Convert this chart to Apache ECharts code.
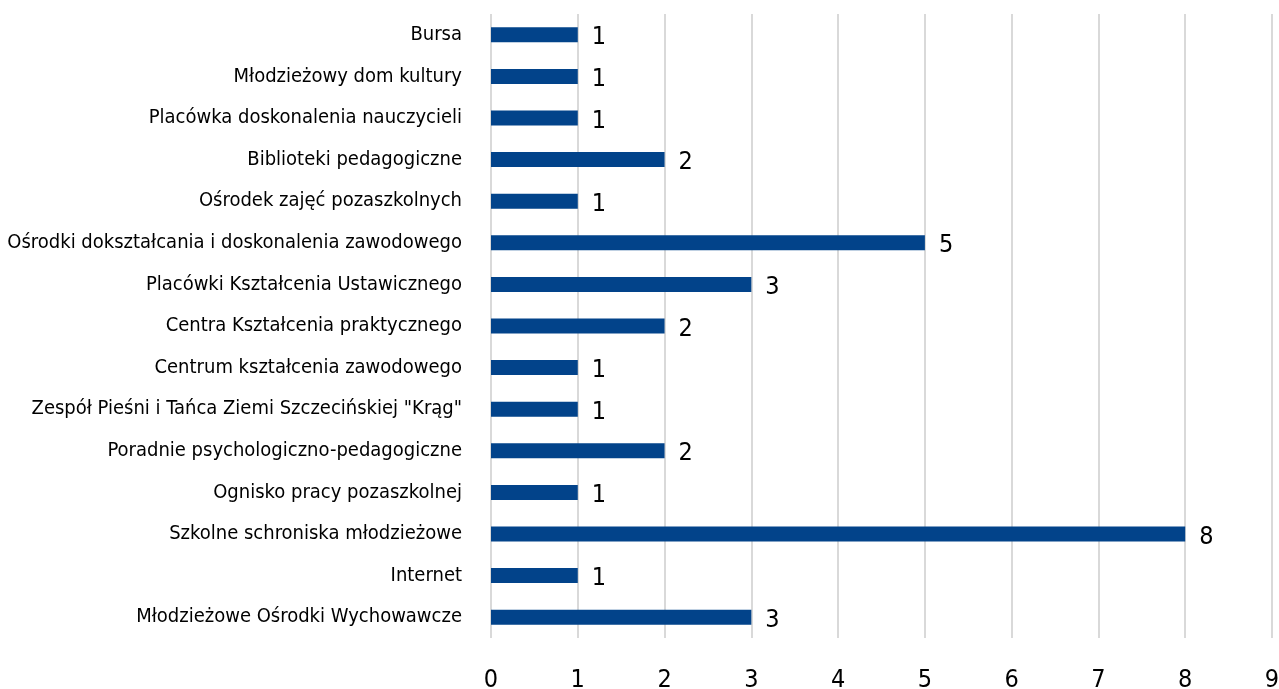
<!DOCTYPE html>
<html><head><meta charset="utf-8">
<script src="https://cdn.jsdelivr.net/npm/echarts@6/dist/echarts.min.js"></script>
<style>html,body{margin:0;padding:0;background:#fff}#c{width:1279px;height:689px}</style>
</head><body><div id="c"></div>
<script>
const categories = [
  "Bursa",
  "Młodzieżowy dom kultury",
  "Placówka doskonalenia nauczycieli",
  "Biblioteki pedagogiczne",
  "Ośrodek zajęć pozaszkolnych",
  "Ośrodki dokształcania i doskonalenia zawodowego",
  "Placówki Kształcenia Ustawicznego",
  "Centra Kształcenia praktycznego",
  "Centrum kształcenia zawodowego",
  "Zespół Pieśni i Tańca Ziemi Szczecińskiej \"Krąg\"",
  "Poradnie psychologiczno-pedagogiczne",
  "Ognisko pracy pozaszkolnej",
  "Szkolne schroniska młodzieżowe",
  "Internet",
  "Młodzieżowe Ośrodki Wychowawcze"
];
const values = [1, 1, 1, 2, 1, 5, 3, 2, 1, 1, 2, 1, 8, 1, 3];
const xTicks = [0, 1, 2, 3, 4, 5, 6, 7, 8, 9];

const font = '"Liberation Sans Narrow", "DejaVu Sans Condensed", sans-serif';
const chart = echarts.init(document.getElementById('c'), null, {renderer: 'canvas'});
chart.setOption({
  animation: false,
  grid: {left: 491, right: 7, top: 14, bottom: 51, containLabel: false, outerBoundsMode: 'none'},
  xAxis: {
    type: 'value', min: xTicks[0], max: xTicks[xTicks.length - 1], interval: 1,
    axisLine: {show: false}, axisTick: {show: false},
    splitLine: {show: true, lineStyle: {color: '#d9d9d9', width: 2}},
    axisLabel: {color: '#000', fontFamily: font, fontSize: 25, margin: 30}
  },
  yAxis: {
    type: 'category', inverse: true, data: categories,
    axisLine: {show: false}, axisTick: {show: false},
    axisLabel: {color: '#000', fontFamily: font, fontSize: 20, margin: 29, padding: [4, 0, 0, 0]}
  },
  series: [{
    type: 'bar', data: values, barWidth: 15,
    itemStyle: {color: '#02438a'},
    label: {show: true, position: 'right', distance: 14, offset: [0, 3], color: '#000', fontFamily: font, fontSize: 25}
  }]
});
</script></body></html>
